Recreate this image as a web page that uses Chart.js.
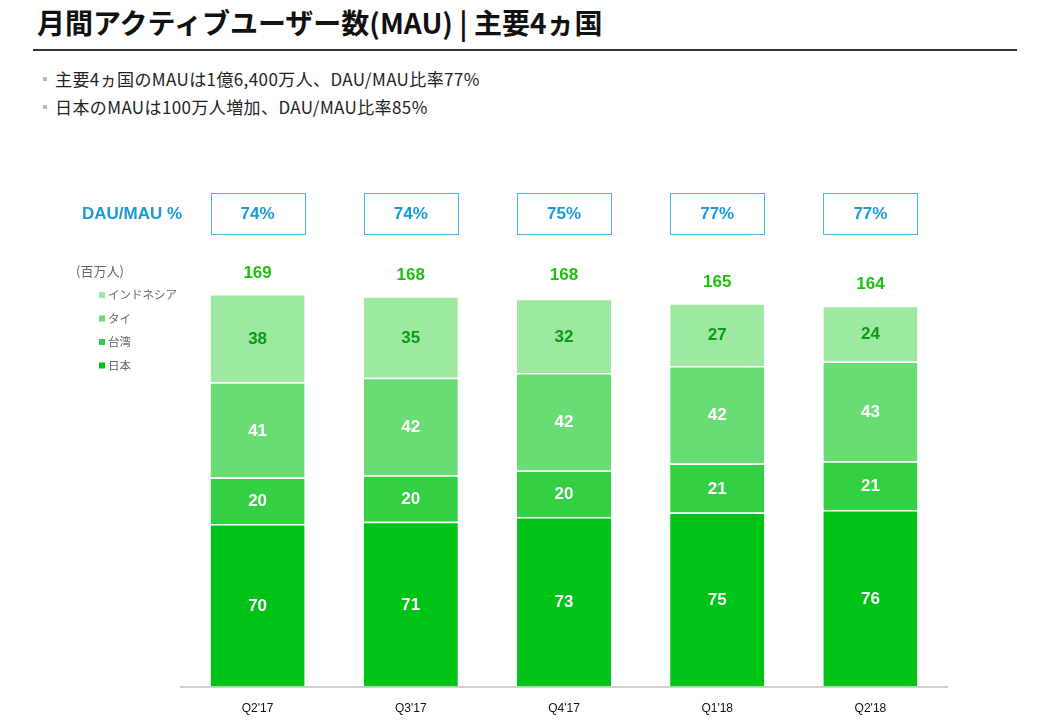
<!DOCTYPE html>
<html>
<head>
<meta charset="utf-8">
<script src="https://cdn.jsdelivr.net/npm/chart.js@4"></script>
<style>
  body { margin: 0; width: 1052px; height: 726px; background: #fff; position: relative; overflow: hidden;
         font-family: "Noto Sans CJK JP", "Liberation Sans", sans-serif; }
  #title { position: absolute; left: 37px; top: 2px; font-size: 28px; font-weight: bold; color: #111; }
  #rule { position: absolute; left: 33px; top: 49px; width: 984px; height: 2px; background: #333; }
  .bullet { position: absolute; left: 55px; font-size: 17px; color: #222; letter-spacing: 0.4px; }
  .bullet::before { content: ""; position: absolute; left: -12px; top: 11px; width: 4px; height: 4px; background: #bbb; }
  #chartWrap { position: absolute; left: 0; top: 0; width: 1052px; height: 726px; }
</style>
</head>
<body>
<div id="title">月間アクティブユーザー数(MAU) | 主要4ヵ国</div>
<div id="rule"></div>
<div class="bullet" style="top:66px">主要4ヵ国のMAUは1億6,400万人、DAU/MAU比率77%</div>
<div class="bullet" style="top:94px">日本のMAUは100万人増加、DAU/MAU比率85%</div>
<div id="chartWrap"><canvas id="mauChart" width="1052" height="726"></canvas></div>
<script>
// Data (millions)
const quarters = ["Q2'17", "Q3'17", "Q4'17", "Q1'18", "Q2'18"];
const japan = [70, 71, 73, 75, 76];
const taiwan = [20, 20, 20, 21, 21];
const thailand = [41, 42, 42, 42, 43];
const indonesia = [38, 35, 32, 27, 24];
const totals = [169, 168, 168, 165, 164];
const dauMau = ['74%', '74%', '75%', '77%', '77%'];

const ctx = document.getElementById('mauChart').getContext('2d');

function seg(label, data, color, textColor) {
    return {
        label: label,
        data: data,
        backgroundColor: color,
        borderColor: '#ffffff',
        borderWidth: { top: 1.5, left: 0, right: 0, bottom: 0 },
        borderSkipped: false,
        textColor: textColor,
        barPercentage: 0.614,
        categoryPercentage: 1
    };
}

// Draws segment values, totals, DAU/MAU boxes and the left legend
const overlayPlugin = {
    id: 'overlay',
    afterDatasetsDraw(chart) {
        const c = chart.ctx;
        const xs = chart.scales.x;
        const ys = chart.scales.y;
        c.save();
        c.textAlign = 'center';
        c.textBaseline = 'middle';

        // values inside segments
        c.font = 'bold 17px "Liberation Sans", Arial, sans-serif';
        chart.data.datasets.forEach((ds, i) => {
            const meta = chart.getDatasetMeta(i);
            meta.data.forEach((bar, j) => {
                c.fillStyle = ds.textColor;
                c.fillText(ds.data[j], bar.x, (bar.y + bar.base) / 2 + 1);
            });
        });

        // totals above bars
        c.fillStyle = '#1fbf0f';
        totals.forEach((t, j) => {
            c.fillText(t, xs.getPixelForValue(j), ys.getPixelForValue(t) - 21);
        });

        // DAU/MAU boxes
        c.strokeStyle = '#4ab3e8';
        c.lineWidth = 1;
        dauMau.forEach((v, j) => {
            const cx = xs.getPixelForValue(j);
            c.strokeRect(Math.round(cx - 47) + 0.5, 193.5, 94, 41);
            c.fillStyle = '#1a9ad9';
            c.fillText(v, cx, 214);
        });
        c.textAlign = 'left';
        c.fillText('DAU/MAU %', 82, 214);

        // legend
        c.fillStyle = '#666';
        c.font = '13px "Noto Sans CJK JP", sans-serif';
        c.fillText('(百万人)', 76, 271);
        c.font = '11.5px "Noto Sans CJK JP", sans-serif';
        const legendOrder = [3, 2, 1, 0];
        legendOrder.forEach((di, k) => {
            const ds = chart.data.datasets[di];
            const y = 295 + k * 23.5;
            c.fillStyle = ds.backgroundColor;
            c.fillRect(99, y - 3, 6, 6);
            c.fillStyle = '#666';
            c.fillText(ds.label, 108, y);
        });
        c.restore();
    }
};

new Chart(ctx, {
    type: 'bar',
    data: {
        labels: quarters,
        datasets: [
            seg('日本', japan, '#00c317', '#ffffff'),
            seg('台湾', taiwan, '#33d044', '#ffffff'),
            seg('タイ', thailand, '#69dc74', '#ffffff'),
            seg('インドネシア', indonesia, '#9de9a2', '#0a9a14')
        ]
    },
    options: {
        responsive: false,
        animation: false,
        layout: { padding: { left: 181, right: 105, top: 222, bottom: 3 } },
        scales: {
            x: {
                stacked: true,
                grid: { display: false },
                border: { color: '#d0d0d0', width: 2 },
                ticks: { color: '#111', font: { size: 12, family: '"Liberation Sans", Arial, sans-serif' }, padding: 7 }
            },
            y: { stacked: true, display: false, min: 0, max: 200 }
        },
        plugins: { legend: { display: false }, tooltip: { enabled: false } }
    },
    plugins: [overlayPlugin]
});
</script>
</body>
</html>
